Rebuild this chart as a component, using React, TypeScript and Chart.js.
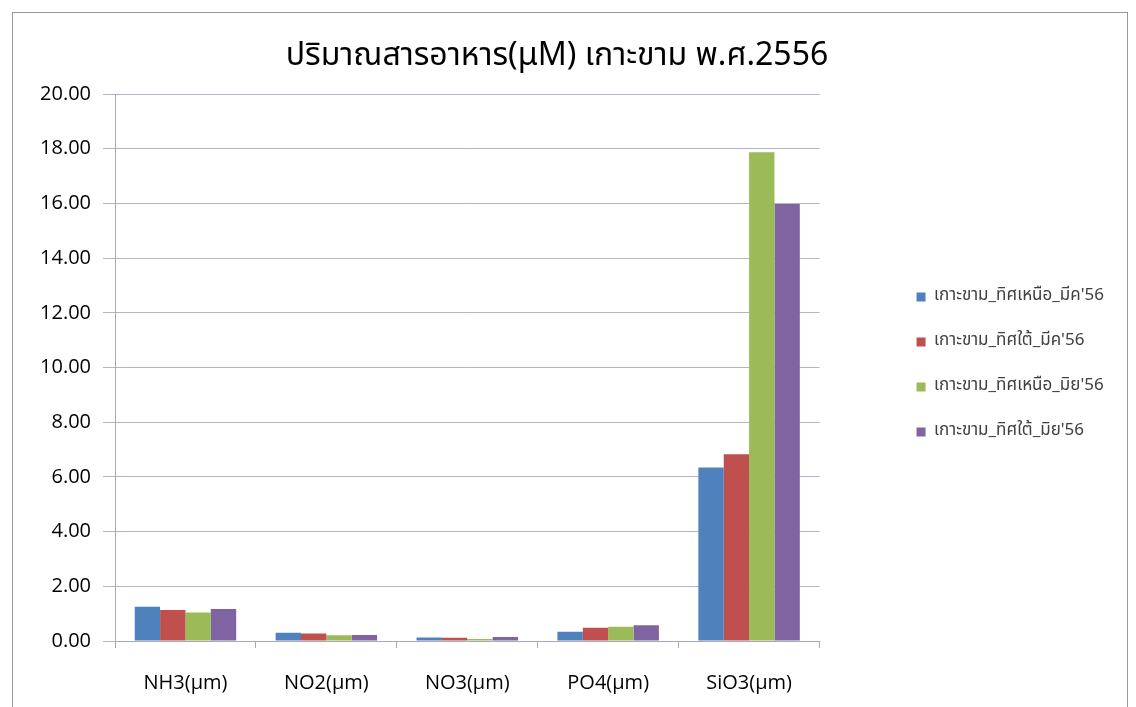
import React, { useEffect, useRef } from "react";
import { Chart, registerables } from "chart.js";

Chart.register(...registerables);

const TITLE = "ปริมาณสารอาหาร(μM) เกาะขาม พ.ศ.2556";
const CATEGORIES = ["NH3(μm)", "NO2(μm)", "NO3(μm)", "PO4(μm)", "SiO3(μm)"];
const SERIES_NAMES = [
  "เกาะขาม_ทิศเหนือ_มีค'56",
  "เกาะขาม_ทิศใต้_มีค'56",
  "เกาะขาม_ทิศเหนือ_มิย'56",
  "เกาะขาม_ทิศใต้_มิย'56",
];
const NORTH_MAR = [1.25, 0.3, 0.13, 0.34, 6.34];
const SOUTH_MAR = [1.13, 0.27, 0.12, 0.48, 6.83];
const NORTH_JUN = [1.04, 0.21, 0.07, 0.52, 17.87];
const SOUTH_JUN = [1.17, 0.22, 0.15, 0.58, 15.98];
const COLORS = ["#4F81BD", "#C0504D", "#9BBB59", "#8064A2"];
const Y_MIN = 0;
const Y_MAX = 20;
const Y_STEP = 2;

const FONT = "'Open Sans', 'Noto Sans', sans-serif";
const THAI_FONT = "'Noto Sans Thai', 'Noto Sans', 'Open Sans', sans-serif";

export default function App() {
  const ref = useRef<HTMLCanvasElement | null>(null);

  useEffect(() => {
    const canvas = ref.current;
    if (!canvas) return;
    const values = [NORTH_MAR, SOUTH_MAR, NORTH_JUN, SOUTH_JUN];
    const chart = new Chart(canvas, {
      type: "bar",
      data: {
        labels: CATEGORIES,
        datasets: values.map((v, i) => ({
          label: SERIES_NAMES[i],
          data: v,
          backgroundColor: COLORS[i],
          borderWidth: 0,
          categoryPercentage: 0.72,
          barPercentage: 1,
          yAxisID: "y",
        })),
      },
      options: {
        responsive: false,
        animation: false,
        layout: { padding: { left: 0, right: 22, top: 0, bottom: 0 } },
        plugins: {
          tooltip: { enabled: false },
          title: {
            display: true,
            text: TITLE,
            color: "#000000",
            font: { family: THAI_FONT, size: 32, weight: "normal" },
            padding: { top: 39, bottom: 16.6 },
          },
          legend: {
            position: "right",
            maxWidth: 320,
            title: {
              display: true,
              text: " ",
              font: { size: 10 },
              padding: { top: 10, bottom: 0 },
            },
            labels: {
              boxWidth: 9,
              boxHeight: 9,
              padding: 28,
              color: "#404040",
              font: { family: THAI_FONT, size: 17 },
            },
          },
        },
        scales: {
          x: {
            grid: {
              display: true,
              drawOnChartArea: false,
              drawTicks: true,
              tickLength: 7,
              color: "#a8a8b8",
              offset: true,
            },
            border: { display: true, color: "#a8a8b8" },
            ticks: {
              color: "#000000",
              padding: 23,
              font: { family: FONT, size: 20 },
            },
            afterFit: (s: any) => {
              s.height = 66;
            },
          },
          y: {
            min: Y_MIN,
            max: Y_MAX,
            grid: { color: "#b4b4c4", tickLength: 12 },
            border: { display: true, color: "#a8a8b8" },
            ticks: {
              stepSize: Y_STEP,
              color: "#000000",
              padding: 12,
              font: { family: FONT, size: 20 },
              callback: (v: any) => Number(v).toFixed(2),
            },
            afterFit: (s: any) => {
              s.width = 115;
            },
          },
          gap: {
            position: "right",
            display: true,
            grid: { display: false, drawTicks: false },
            border: { display: false },
            ticks: { display: false },
            afterFit: (s: any) => {
              s.width = 69;
            },
          },
        },
      },
    } as any);
    return () => chart.destroy();
  }, []);

  return (
    <div style={{ position: "fixed", left: 0, top: 0, width: 1136, height: 707, background: "#fff", overflow: "hidden" }}>
      <div
        style={{
          position: "absolute",
          left: 12,
          top: 12,
          width: 1116,
          height: 720,
          border: "1px solid #9a9a9a",
          boxSizing: "border-box",
        }}
      />
      <canvas ref={ref} width={1136} height={707} style={{ position: "absolute", left: 0, top: 0 }} />
    </div>
  );
}
